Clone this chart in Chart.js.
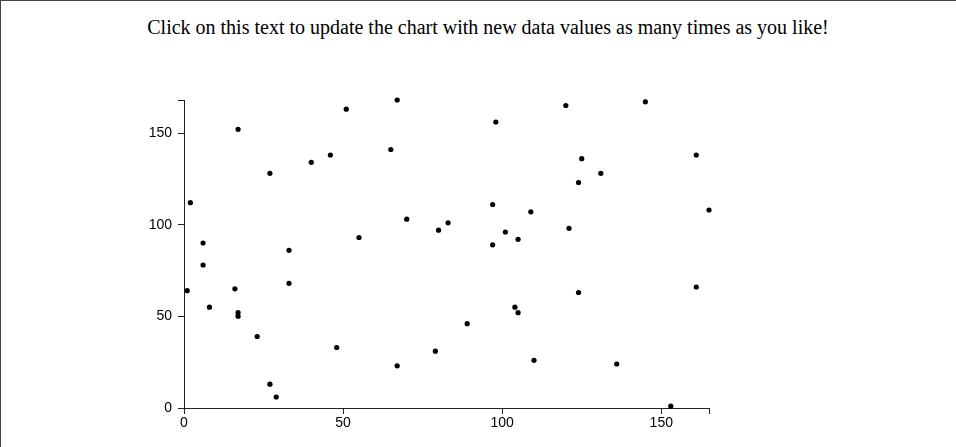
<!DOCTYPE html>
<html>
<head>
<meta charset="utf-8">
<script src="https://cdn.jsdelivr.net/npm/chart.js@4/dist/chart.umd.min.js"></script>
<style>
  html, body { margin: 0; padding: 0; background: #fff; }
  #page { position: relative; width: 956px; height: 447px; overflow: hidden;
          box-sizing: border-box; border-top: 1px solid #444; border-left: 1px solid #444; }
  #caption { position: absolute; left: 0; top: 15px; width: 974px; text-align: center;
             font-family: "Liberation Serif", "Times New Roman", serif; font-size: 20px;
             color: #000; cursor: pointer; }
  #plot { position: absolute; left: -1px; top: -1px; }
</style>
</head>
<body>
<div id="page">
  <div id="caption">Click on this text to update the chart with new data values as many times as you like!</div>
  <canvas id="plot" width="956" height="447"></canvas>
</div>
<script>
// scatter values (x, y pairs)
const xValues = [51, 17, 46, 40, 27, 2, 6, 33, 55,
                 67, 98, 65, 97, 109, 70, 83, 80, 101, 105, 97,
                 120, 145, 125, 161, 131, 124, 165, 121,
                 6, 1, 16, 33, 8, 17, 17, 23, 48, 27, 29,
                 104, 105, 89, 79, 67, 110,
                 124, 161, 136, 153];
const yValues = [163, 152, 138, 134, 128, 112, 90, 86, 93,
                 168, 156, 141, 111, 107, 103, 101, 97, 96, 92, 89,
                 165, 167, 136, 138, 128, 123, 108, 98,
                 78, 64, 65, 68, 55, 52, 50, 39, 33, 13, 6,
                 55, 52, 46, 31, 23, 26,
                 63, 66, 24, 1];

// labelled tick values on each axis
const xTicks = [0, 50, 100, 150];
const yTicks = [0, 50, 100, 150];

const points = xValues.map((x, i) => ({ x: x, y: yValues[i] }));
const xMax = Math.max(...xValues);
const yMax = Math.max(...yValues);

const axisColor = '#222';
const tickFont = { family: '"Liberation Sans", Arial, sans-serif', size: 14 };

// ticks at the labelled values plus one at the domain end, like a d3 axis
function endTicks(values, max) {
  return function (scale) {
    scale.ticks = values.concat([max]).map(v => ({ value: v }));
  };
}

const ctx = document.getElementById('plot').getContext('2d');
new Chart(ctx, {
  type: 'scatter',
  data: {
    datasets: [{
      data: points,
      backgroundColor: '#000',
      borderWidth: 0,
      pointRadius: 2.6,
      pointHoverRadius: 2.6,
      clip: false
    }]
  },
  options: {
    responsive: false,
    animation: false,
    layout: { padding: { left: 0, top: 100, right: 247, bottom: 0 } },
    plugins: { legend: { display: false }, tooltip: { enabled: false } },
    scales: {
      x: {
        type: 'linear',
        min: 0,
        max: xMax,
        afterFit: s => { s.height = 39; },
        afterBuildTicks: endTicks(xTicks, xMax),
        grid: { drawOnChartArea: false, drawTicks: true, tickLength: 6, color: axisColor, lineWidth: 1 },
        border: { display: true, color: axisColor, width: 1 },
        ticks: {
          color: '#000', font: tickFont, padding: 1, maxRotation: 0, autoSkip: false,
          callback: v => xTicks.includes(v) ? String(v) : ''
        }
      },
      y: {
        type: 'linear',
        min: 0,
        max: yMax,
        afterFit: s => { s.width = 184; },
        afterBuildTicks: endTicks(yTicks, yMax),
        grid: { drawOnChartArea: false, drawTicks: true, tickLength: 6, color: axisColor, lineWidth: 1 },
        border: { display: true, color: axisColor, width: 1 },
        ticks: {
          color: '#000', font: tickFont, padding: 6, autoSkip: false,
          callback: v => yTicks.includes(v) ? String(v) : ''
        }
      }
    }
  }
});
</script>
</body>
</html>
